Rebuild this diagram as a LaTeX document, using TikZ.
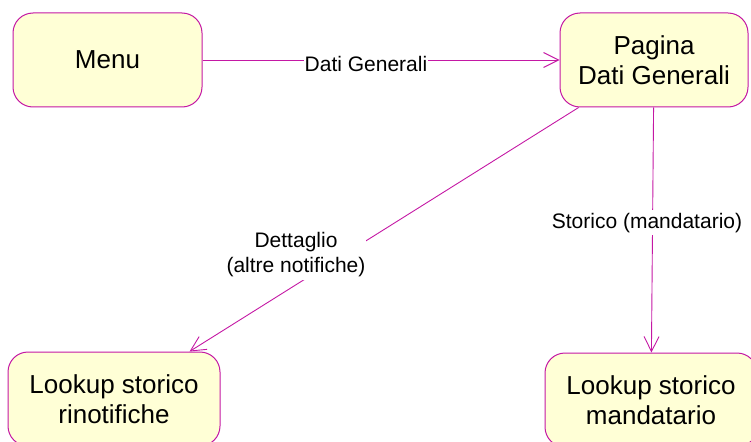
\documentclass[tikz,border=0pt]{standalone}
\usepackage{fontspec}
\setmainfont{Liberation Sans}
\usetikzlibrary{arrows.meta}
\definecolor{edgemag}{RGB}{196,24,164}
\definecolor{boxfill}{RGB}{255,255,214}
\tikzset{
  statebox/.style={draw=edgemag, fill=boxfill, line width=1pt, rounded corners=20pt,
    inner sep=0pt, align=center, font=\fontsize{26}{30}\selectfont},
  conn/.style={draw=edgemag, line width=0.9pt, -{Straight Barb[length=15pt,width=15pt,line width=0.9pt]}},
  lbl/.style={fill=white, inner xsep=1pt, inner ysep=3pt, align=center,
    font=\fontsize{21}{25}\selectfont}
}
\begin{document}
\begin{tikzpicture}[x=1pt,y=-1pt]
\useasboundingbox (0,0) rectangle (751,441);
\node[statebox, minimum width=189pt, minimum height=94pt] (menu) at (107.5,60) {Menu};
\node[statebox, minimum width=188pt, minimum height=94pt] (pag) at (654,60) {Pagina\\Dati Generali};
\node[statebox, minimum width=212pt, minimum height=94pt] (rino) at (114,399) {Lookup storico\\rinotifiche};
\node[statebox, minimum width=212pt, minimum height=94pt] (mand) at (651,400) {Lookup storico\\mandatario};
\draw[conn] (menu) -- (pag);
\draw[conn] (pag) -- (rino);
\draw[conn] (pag) -- (mand);
\node[lbl, anchor=base] (l1) at (366,72) {Dati Generali};
\node[lbl] (l2) at (296,255) {Dettaglio\\(altre notifiche)};
\node[lbl, anchor=base] (l3) at (647,228) {Storico (mandatario)};
\end{tikzpicture}
\end{document}
